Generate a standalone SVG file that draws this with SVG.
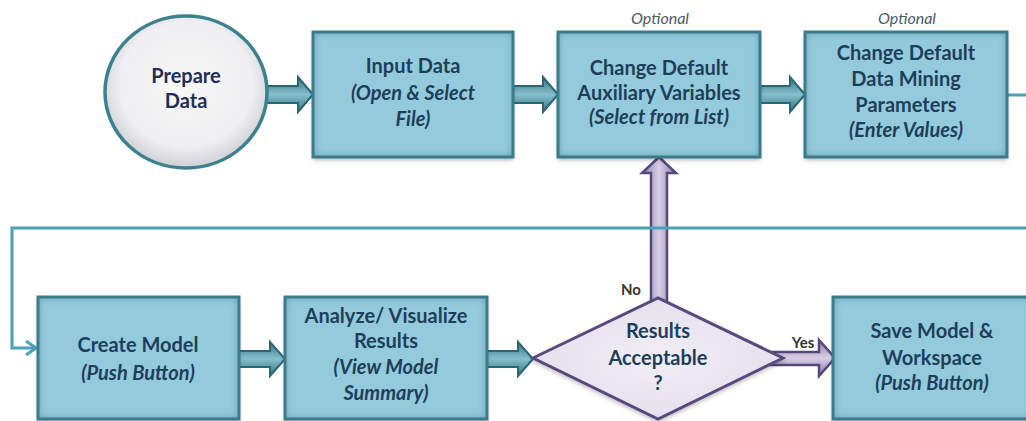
<svg xmlns="http://www.w3.org/2000/svg" width="1026" height="421" viewBox="0 0 1026 421">
<defs>
  <style>
    .box { fill: #93cbdc; }
    .boxstroke { fill: none; stroke: #3a7c8c; stroke-width: 3; }
    .t { font-family: Lato, "Open Sans", "Liberation Sans", sans-serif; font-size: 20px; font-weight: bold; fill: #1f3e5a; text-anchor: middle; }
    .ti { font-style: italic; }
    .opt { font-family: Lato, "Open Sans", "Liberation Sans", sans-serif; font-size: 16px; font-style: italic; fill: #4a5b6a; text-anchor: middle; }
    .lbl { font-family: Lato, "Open Sans", "Liberation Sans", sans-serif; font-size: 15px; font-weight: bold; fill: #333; text-anchor: middle; }
    .tarrow { fill: url(#tealShaft); stroke: #2b6674; stroke-width: 2; stroke-linejoin: miter; }
    .parrow { fill: url(#purpShaftV); stroke: #56477c; stroke-width: 2.5; }
    .line { fill: none; stroke: #4aa2b6; stroke-width: 3; }
  </style>
  <linearGradient id="tealShaft" x1="0" y1="0" x2="0" y2="1">
    <stop offset="0" stop-color="#2f7282"/>
    <stop offset="0.5" stop-color="#86bfcd"/>
    <stop offset="1" stop-color="#2f7282"/>
  </linearGradient>
  <linearGradient id="purpShaftV" x1="0" y1="0" x2="1" y2="0">
    <stop offset="0" stop-color="#8a7aa8"/>
    <stop offset="0.5" stop-color="#d7cfe4"/>
    <stop offset="1" stop-color="#8a7aa8"/>
  </linearGradient>
  <linearGradient id="purpShaftH" x1="0" y1="0" x2="0" y2="1">
    <stop offset="0" stop-color="#8a7aa8"/>
    <stop offset="0.5" stop-color="#d7cfe4"/>
    <stop offset="1" stop-color="#8a7aa8"/>
  </linearGradient>
  <radialGradient id="circFill" cx="0.5" cy="0.45" r="0.55">
    <stop offset="0" stop-color="#f7f7f8"/>
    <stop offset="0.75" stop-color="#efeff1"/>
    <stop offset="1" stop-color="#cfd0d4"/>
  </radialGradient>
  <radialGradient id="diaFill" cx="0.5" cy="0.5" r="0.6">
    <stop offset="0" stop-color="#f1eef5"/>
    <stop offset="0.8" stop-color="#e6e1ee"/>
    <stop offset="1" stop-color="#cfc6de"/>
  </radialGradient>
  <filter id="inset" x="-5%" y="-5%" width="110%" height="115%">
    <feGaussianBlur in="SourceAlpha" stdDeviation="4" result="b"/>
    <feComposite in="SourceAlpha" in2="b" operator="out" result="edge"/>
    <feFlood flood-color="#2a6b7c" flood-opacity="0.75"/>
    <feComposite in2="edge" operator="in" result="sh"/>
    <feOffset in="SourceAlpha" dy="3" result="o"/>
    <feGaussianBlur in="o" stdDeviation="2" result="ob"/>
    <feFlood flood-color="#000" flood-opacity="0.3"/>
    <feComposite in2="ob" operator="in" result="drop"/>
    <feMerge><feMergeNode in="drop"/><feMergeNode in="SourceGraphic"/><feMergeNode in="sh"/></feMerge>
  </filter>
  <filter id="soft" x="-10%" y="-10%" width="120%" height="125%">
    <feOffset in="SourceAlpha" dy="2" result="o"/>
    <feGaussianBlur in="o" stdDeviation="2" result="ob"/>
    <feFlood flood-color="#000" flood-opacity="0.25"/>
    <feComposite in2="ob" operator="in" result="drop"/>
    <feMerge><feMergeNode in="drop"/><feMergeNode in="SourceGraphic"/></feMerge>
  </filter>
  <marker id="open" viewBox="0 0 12 16" refX="11" refY="8" markerWidth="12" markerHeight="16" markerUnits="userSpaceOnUse" orient="auto">
    <path d="M1,1 L11,8 L1,15" fill="none" stroke="#4aa2b6" stroke-width="3"/>
  </marker>
</defs>
<rect width="1026" height="421" fill="#ffffff"/>

<g id="connectors">
  <path class="tarrow" d="M266,86 H298 V77 L313,94.5 L298,112 V103 H266 Z"/>
  <path class="tarrow" d="M513,86 H543 V77 L558,94.5 L543,112 V103 H513 Z"/>
  <path class="tarrow" d="M760,86 H790 V77 L805,94.5 L790,112 V103 H760 Z"/>
  <path class="tarrow" d="M239,351 H270 V342 L285,359 L270,376 V367 H239 Z"/>
  <path class="tarrow" d="M487,351 H518 V342 L533,359 L518,376 V367 H487 Z"/>
  <path class="parrow" style="fill:url(#purpShaftH)" d="M770,352 H819 V340 L835,358 L819,376 V365 H770 Z"/>
  <path class="parrow" d="M651,305 V173 H642 L659,157 L676,173 H667 V305 Z"/>
  <path class="line" d="M1007,95 H1026"/>
  <path class="line" d="M1026,228 H12 V348 H36" marker-end="url(#open)"/>
  <text class="lbl" x="631" y="295">No</text>
  <text class="lbl" x="803" y="348">Yes</text>
</g>

<g id="prepare">
  <ellipse cx="186" cy="92" rx="81" ry="76" fill="url(#circFill)" stroke="#3d8191" stroke-width="3.5"/>
  <text class="t" x="186" y="83" style="fill:#1e2d5a">Prepare</text>
  <text class="t" x="186" y="108" style="fill:#1e2d5a">Data</text>
</g>

<g id="input">
  <rect class="box" x="313" y="32" width="200" height="125" filter="url(#inset)"/>
  <rect class="boxstroke" x="313" y="32" width="200" height="125"/>
  <text class="t" x="413" y="73">Input Data</text>
  <text class="t ti" x="413" y="100">(Open &amp; Select</text>
  <text class="t ti" x="413" y="126">File)</text>
</g>

<g id="aux">
  <text class="opt" x="660" y="24">Optional</text>
  <rect class="box" x="558" y="32" width="202" height="125" filter="url(#inset)"/>
  <rect class="boxstroke" x="558" y="32" width="202" height="125"/>
  <text class="t" x="659" y="75">Change Default</text>
  <text class="t" x="659" y="100">Auxiliary Variables</text>
  <text class="t ti" x="659" y="124">(Select from List)</text>
</g>

<g id="params">
  <text class="opt" x="907" y="24">Optional</text>
  <rect class="box" x="805" y="32" width="202" height="125" filter="url(#inset)"/>
  <rect class="boxstroke" x="805" y="32" width="202" height="125"/>
  <text class="t" x="906" y="60">Change Default</text>
  <text class="t" x="906" y="86">Data Mining</text>
  <text class="t" x="906" y="112">Parameters</text>
  <text class="t ti" x="906" y="137">(Enter Values)</text>
</g>

<g id="create">
  <rect class="box" x="38" y="297" width="201" height="122" filter="url(#inset)"/>
  <rect class="boxstroke" x="38" y="297" width="201" height="122"/>
  <text class="t" x="138" y="352">Create Model</text>
  <text class="t ti" x="138" y="380">(Push Button)</text>
</g>

<g id="analyze">
  <rect class="box" x="285" y="297" width="202" height="122" filter="url(#inset)"/>
  <rect class="boxstroke" x="285" y="297" width="202" height="122"/>
  <text class="t" x="386" y="323">Analyze/ Visualize</text>
  <text class="t" x="386" y="348">Results</text>
  <text class="t ti" x="386" y="374">(View Model</text>
  <text class="t ti" x="386" y="400">Summary)</text>
</g>

<g id="decision">
  <path d="M533,358 L658,298 L783,358 L658,419 Z" fill="url(#diaFill)" stroke="#594a7f" stroke-width="3" filter="url(#soft)"/>
  <text class="t" x="658" y="338">Results</text>
  <text class="t" x="658" y="365">Acceptable</text>
  <text class="t" x="658" y="390">?</text>
</g>

<g id="save">
  <rect class="box" x="833" y="297" width="200" height="122" filter="url(#inset)"/>
  <rect class="boxstroke" x="833" y="297" width="200" height="122"/>
  <text class="t" x="932" y="338">Save Model &amp;</text>
  <text class="t" x="932" y="365">Workspace</text>
  <text class="t ti" x="932" y="390">(Push Button)</text>
</g>
</svg>
